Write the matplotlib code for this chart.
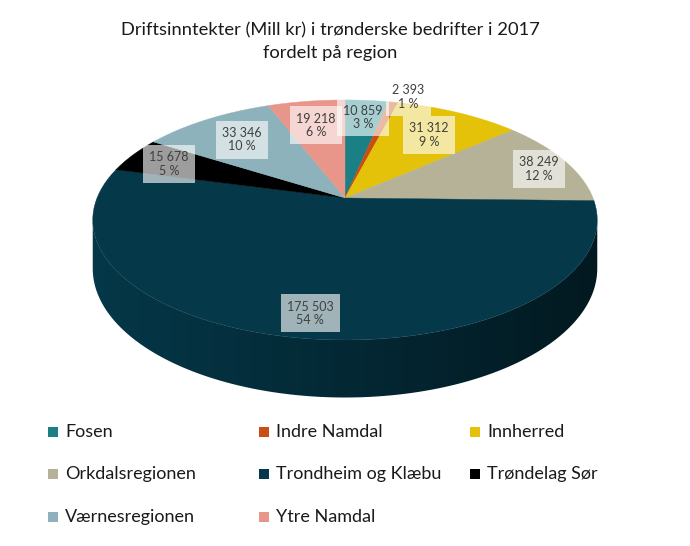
import numpy as np
import matplotlib.pyplot as plt
from matplotlib.patches import Polygon, Rectangle
from matplotlib.colors import to_rgb

plt.rcParams["font.family"] = ["Lato", "DejaVu Sans"]

regions = ["Fosen", "Indre Namdal", "Innherred", "Orkdalsregionen",
           "Trondheim og Klæbu", "Trøndelag Sør", "Værnesregionen", "Ytre Namdal"]
values = [10859, 2393, 31312, 38249, 175503, 15678, 33346, 19218]
pct_labels = [3, 1, 9, 12, 54, 5, 10, 6]
colors = ["#1b7f86", "#c94e12", "#e4c20a", "#b5b298",
          "#053849", "#000000", "#8db2bc", "#e8968a"]

# label distance from centre (fraction of radius) and small angle nudge (deg)
label_r = [0.80, 1.08, 0.71, 0.86, 0.85, 0.81, 0.72, 0.72]
label_da = [0, 3, 0, 2, 0, -1, 0, 0]

# projection of the tilted disc (pixel coordinates)
cx, cy = 345, 198
R, S, T, k = 248, 116, 47, 0.183


def proj(phi, r=1.0, z=0.0):
    u = r * np.sin(phi)
    v = r * np.cos(phi)
    d = 1 + k * v
    return cx + R * u / d, cy + (-S * v - T * z) / d


fig = plt.figure(figsize=(6.9, 5.46), dpi=100)
ax = fig.add_axes([0, 0, 1, 1])

total = sum(values)
edges = np.concatenate([[0], np.cumsum(values)]) / total * 2 * np.pi

# side wall (only the front part is visible)
a_lo = np.arccos(-k)
a_hi = 2 * np.pi - a_lo
xs = np.linspace(80, 610, 400)
shade = np.clip(0.72 - 0.27 * (xs - cx) / R, 0, 1)
for i, c in enumerate(colors):
    s0, s1 = max(edges[i], a_lo), min(edges[i + 1], a_hi)
    if s1 <= s0:
        continue
    ang = np.linspace(s0, s1, 120)
    pts = [proj(a) for a in ang] + [proj(a, z=-1) for a in ang[::-1]]
    poly = Polygon(pts, closed=True, facecolor="none", edgecolor="none")
    ax.add_patch(poly)
    img = np.array(to_rgb(c))[None, None, :] * shade[None, :, None]
    im = ax.imshow(np.clip(img, 0, 1), extent=(80, 610, 410, 180),
                   aspect="auto", interpolation="bilinear", zorder=1)
    im.set_clip_path(poly)

# top surface
for i, c in enumerate(colors):
    ang = np.linspace(edges[i], edges[i + 1], 80)
    pts = [(cx, cy)] + [proj(a) for a in ang]
    ax.add_patch(Polygon(pts, closed=True, facecolor=c, edgecolor=c, lw=0.3, zorder=2))

# data labels
for i, v in enumerate(values):
    mid = 0.5 * (edges[i] + edges[i + 1]) + np.radians(label_da[i])
    x, y = proj(mid, r=label_r[i])
    txt = f"{v:,}".replace(",", " ") + f"\n{pct_labels[i]} %"
    ax.text(x, y, txt, ha="center", va="center", fontsize=9, color="#404040",
            linespacing=1.15, zorder=3,
            bbox=dict(boxstyle="square,pad=0.5", facecolor="white", alpha=0.62, lw=0))

# title
ax.text(330, 30, "Driftsinntekter (Mill kr) i trønderske bedrifter i 2017",
        ha="center", va="center", fontsize=13.2, color="#1a1a1a")
ax.text(330, 53, "fordelt på region",
        ha="center", va="center", fontsize=13.2, color="#1a1a1a")

# legend, row by row
col_x = [48, 259, 470]
row_y = [432, 474, 517]
for i, (name, c) in enumerate(zip(regions, colors)):
    x0 = col_x[i % 3]
    y0 = row_y[i // 3]
    ax.add_patch(Rectangle((x0, y0 - 5), 10, 10, facecolor=c, edgecolor="none"))
    ax.text(x0 + 17, y0, name, ha="left", va="center", fontsize=13, color="#1a1a1a")

ax.set_xlim(0, 690)
ax.set_ylim(546, 0)
ax.axis("off")

plt.savefig("out.png", dpi=100)
